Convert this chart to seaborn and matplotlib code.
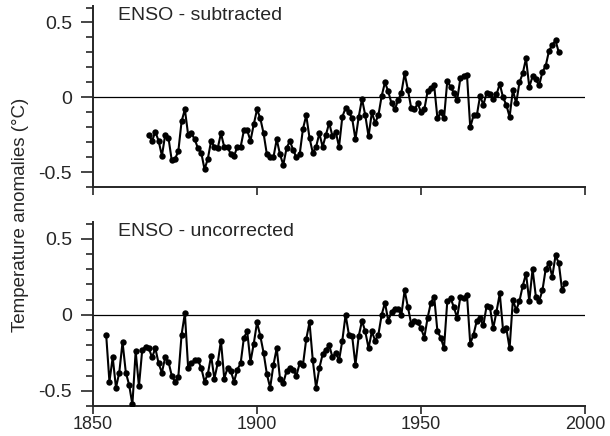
import pandas as pd
import matplotlib
matplotlib.use("Agg")
import matplotlib.pyplot as plt
from matplotlib.ticker import MultipleLocator
import seaborn as sns

# values (annual anomalies, degC)
years_sub = list(range(1867, 1993))
anom_sub = [
    -0.25, -0.29, -0.23, -0.29, -0.39, -0.25, -0.27, -0.42, -0.41, -0.36,
    -0.16, -0.08, -0.25, -0.24, -0.28, -0.34, -0.37, -0.48, -0.41, -0.29,
    -0.33, -0.34, -0.24, -0.33, -0.33, -0.38, -0.39, -0.33, -0.33, -0.22,
    -0.22, -0.29, -0.18, -0.08, -0.14, -0.24, -0.38, -0.40, -0.40, -0.28,
    -0.38, -0.45, -0.34, -0.29, -0.35, -0.40, -0.38, -0.21, -0.12, -0.27,
    -0.37, -0.33, -0.24, -0.33, -0.25, -0.17, -0.26, -0.23, -0.33, -0.13,
    -0.07, -0.10, -0.14, -0.28, -0.13, -0.01, -0.12, -0.26, -0.10, -0.17,
    -0.12, 0.01, 0.10, 0.04, -0.04, -0.08, -0.02, 0.03, 0.16, 0.05,
    -0.07, -0.08, -0.04, -0.10, -0.08, 0.04, 0.06, 0.08, -0.14, -0.10,
    -0.14, 0.11, 0.07, 0.03, -0.02, 0.13, 0.14, 0.15, -0.20, -0.12,
    -0.12, 0.01, -0.05, 0.03, 0.02, -0.01, 0.02, 0.09, 0.00, -0.05,
    -0.13, 0.05, -0.04, 0.10, 0.16, 0.26, 0.07, 0.14, 0.12, 0.08,
    0.17, 0.21, 0.31, 0.35, 0.38, 0.30,
]

years_unc = list(range(1854, 1995))
anom_unc = [
    -0.13, -0.44, -0.28, -0.48, -0.38, -0.18, -0.38, -0.46, -0.59, -0.24,
    -0.47, -0.23, -0.21, -0.22, -0.28, -0.22, -0.32, -0.38, -0.28, -0.31,
    -0.40, -0.44, -0.41, -0.13, 0.01, -0.35, -0.32, -0.30, -0.30, -0.35,
    -0.44, -0.39, -0.27, -0.42, -0.32, -0.17, -0.42, -0.35, -0.37, -0.44,
    -0.36, -0.32, -0.15, -0.11, -0.31, -0.19, -0.05, -0.14, -0.25, -0.39,
    -0.48, -0.33, -0.22, -0.42, -0.45, -0.37, -0.35, -0.36, -0.40, -0.32,
    -0.33, -0.16, -0.05, -0.30, -0.48, -0.35, -0.26, -0.23, -0.20, -0.28,
    -0.25, -0.30, -0.17, 0.00, -0.13, -0.14, -0.33, -0.14, -0.04, -0.11,
    -0.22, -0.11, -0.17, -0.13, 0.00, 0.08, -0.04, 0.02, 0.04, 0.04,
    0.00, 0.16, 0.05, -0.06, -0.04, -0.05, -0.09, -0.15, -0.02, 0.08,
    0.12, -0.11, -0.15, -0.22, 0.09, 0.11, 0.05, -0.02, 0.12, 0.11,
    0.13, -0.19, -0.13, -0.04, -0.02, -0.07, 0.06, 0.05, -0.09, 0.02,
    0.14, -0.10, -0.09, -0.22, 0.10, 0.03, 0.09, 0.19, 0.27, 0.09,
    0.30, 0.12, 0.09, 0.16, 0.30, 0.34, 0.25, 0.39, 0.34, 0.16,
    0.21,
]

panel_titles = ["ENSO - subtracted", "ENSO - uncorrected"]

sns.set_style("ticks")
plt.rcParams["font.family"] = ["Liberation Sans", "DejaVu Sans"]

fig = plt.figure(figsize=(6.1, 4.36), dpi=100)
ax1 = fig.add_axes([0.1525, 0.5704, 0.8066, 0.4158])
ax2 = fig.add_axes([0.1525, 0.0688, 0.8066, 0.4220])

series = [(years_sub, anom_sub), (years_unc, anom_unc)]
for ax, (yrs, vals), title in zip([ax1, ax2], series, panel_titles):
    df = pd.DataFrame({"year": yrs, "anomaly": vals})
    ax.axhline(0, color="black", lw=0.9, zorder=1)
    sns.lineplot(data=df, x="year", y="anomaly", ax=ax, color="black",
                 lw=1.5, marker="o", markersize=4.6, markeredgecolor="black",
                 markeredgewidth=0, zorder=3)
    ax.set_xlim(1850, 2000)
    ax.set_ylim(-0.6, 0.61)
    ax.set_xticks([1850, 1900, 1950, 2000])
    ax.set_yticks([-0.5, 0, 0.5])
    ax.set_yticklabels(["-0.5", "0", "0.5"])
    ax.yaxis.set_minor_locator(MultipleLocator(0.1))
    ax.tick_params(axis="y", which="major", length=9, width=1.2,
                   labelsize=14, pad=6)
    ax.tick_params(axis="y", which="minor", length=5, width=1.2)
    ax.tick_params(axis="x", which="major", length=6, width=1.2,
                   labelsize=13, pad=1.5)
    ax.set_xlabel("")
    ax.set_ylabel("")
    for s in ["left", "bottom"]:
        ax.spines[s].set_linewidth(1.4)
    sns.despine(ax=ax)
    ax.text(0.05, 0.995, title, transform=ax.transAxes, ha="left", va="top",
            fontsize=14)

ax1.set_xticklabels([])

fig.text(0.033, 0.507, "Temperature anomalies (°C)", rotation=90,
         ha="center", va="center", fontsize=13.5)

fig.savefig("out.png", dpi=100)
